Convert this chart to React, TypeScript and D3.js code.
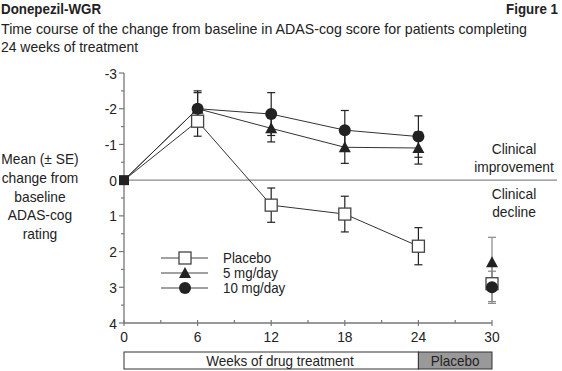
import React from "react";
import * as d3 from "d3";

const weeks = [0, 6, 12, 18, 24];
const placebo = [0, -1.65, 0.7, 0.95, 1.85];
const placeboSE = [0, 0.42, 0.48, 0.5, 0.52];
const mg5 = [0, -2.0, -1.45, -0.92, -0.9];
const mg5SE = [0, 0.45, 0.38, 0.45, 0.45];
const mg10 = [0, -2.0, -1.85, -1.4, -1.22];
const mg10SE = [0, 0.5, 0.6, 0.55, 0.58];

// week 30: after switch to placebo, not joined to the lines
const week30 = 30;
const placebo30 = 2.9;
const placebo30SE = 0.5;
const mg5_30 = 2.3;
const mg5_30SE = 0.7;
const mg10_30 = 3.0;
const mg10_30SE = 0.45;

const xTicks = [0, 6, 12, 18, 24, 30];
const xMinor = [3, 9, 15, 21, 27];
const yTicks = [-3, -2, -1, 0, 1, 2, 3, 4];
const yMinor = [-2.5, -1.5, -0.5, 0.5, 1.5, 2.5, 3.5];

const legendLabels = ["Placebo", "5 mg/day", "10 mg/day"];
const yLabelLines = ["Mean (\u00B1 SE)", "change from", "baseline", "ADAS-cog", "rating"];

const font = "'Liberation Sans', Arial, sans-serif";
const ink = "#222";

const x = d3.scaleLinear().domain([0, 30]).range([124, 492]);
const y = d3.scaleLinear().domain([-3, 4]).range([73, 323]);

// narrow-looking text: squeeze the glyphs horizontally
const T = ({ x: tx, y: ty, children, anchor = "start", size = 15, bold = false, sx = 0.92, dy }: any) => (
  <text
    transform={`translate(${tx},${ty}) scale(${sx},1)`}
    fontSize={size}
    fontWeight={bold ? "bold" : "normal"}
    textAnchor={anchor}
    dy={dy}
    fill={ink}
  >
    {children}
  </text>
);

const Square = ({ cx, cy }: { cx: number; cy: number }) => (
  <rect x={cx - 6} y={cy - 6} width={12} height={12} fill="#fff" stroke="#444" strokeWidth={1.3} />
);
const Triangle = ({ cx, cy }: { cx: number; cy: number }) => (
  <path d={`M${cx},${cy - 6}L${cx + 6},${cy + 5}L${cx - 6},${cy + 5}Z`} fill={ink} />
);
const Dot = ({ cx, cy }: { cx: number; cy: number }) => <circle cx={cx} cy={cy} r={6} fill={ink} />;

const ErrBar = ({ wk, v, se, color = ink }: { wk: number; v: number; se: number; color?: string }) => {
  if (!se) return null;
  const cx = x(wk);
  const y1 = y(v - se);
  const y2 = y(v + se);
  return (
    <g stroke={color} strokeWidth={1.2}>
      <line x1={cx} x2={cx} y1={y1} y2={y2} />
      <line x1={cx - 4} x2={cx + 4} y1={y1} y2={y1} />
      <line x1={cx - 4} x2={cx + 4} y1={y2} y2={y2} />
    </g>
  );
};

export default function App() {
  const line = d3
    .line<number>()
    .x((_, i) => x(weeks[i]))
    .y((d) => y(d));

  const series = [
    { vals: placebo, se: placeboSE, M: Square },
    { vals: mg5, se: mg5SE, M: Triangle },
    { vals: mg10, se: mg10SE, M: Dot },
  ];

  return (
    <svg width={562} height={371} style={{ position: "absolute", left: 0, top: 0 }} fontFamily={font}>
      <rect width={562} height={371} fill="#fff" />
      {/* header */}
      <T x={1} y={14} size={15} bold sx={0.89}>Donepezil-WGR</T>
      <T x={558} y={14} size={15} bold sx={0.89} anchor="end">Figure 1</T>
      <text x={1} y={34} fontSize={15} fill={ink} textLength={526} lengthAdjust="spacingAndGlyphs">
        Time course of the change from baseline in ADAS-cog score for patients completing
      </text>
      <T x={1} y={52} size={15} sx={0.93}>24 weeks of treatment</T>

      {/* y label */}
      {yLabelLines.map((t, i) => (
        <T key={t} x={40} y={164 + i * 18.8} anchor="middle">{t}</T>
      ))}

      {/* zero line */}
      <line x1={x(0)} x2={557} y1={y(0)} y2={y(0)} stroke="#888" strokeWidth={1.3} />

      {/* y axis */}
      <line x1={x(0)} x2={x(0)} y1={y(-3)} y2={y(4)} stroke="#777" strokeWidth={1.3} />
      {yTicks.map((t) => (
        <g key={t}>
          <line x1={x(0) - 5} x2={x(0)} y1={y(t)} y2={y(t)} stroke="#777" strokeWidth={1.2} />
          <T x={117} y={y(t) + 5.5} anchor="end">{t}</T>
        </g>
      ))}
      {yMinor.map((t) => (
        <line key={t} x1={x(0) - 3} x2={x(0)} y1={y(t)} y2={y(t)} stroke="#777" strokeWidth={1.2} />
      ))}

      {/* x axis */}
      <line x1={x(0)} x2={x(30)} y1={y(4)} y2={y(4)} stroke="#777" strokeWidth={1.3} />
      {xTicks.map((t) => (
        <g key={t}>
          <line x1={x(t)} x2={x(t)} y1={y(4) - 3} y2={y(4) + 3} stroke="#777" strokeWidth={1.2} />
          <T x={x(t)} y={342} anchor="middle">{t}</T>
        </g>
      ))}
      {xMinor.map((t) => (
        <line key={t} x1={x(t)} x2={x(t)} y1={y(4) - 3} y2={y(4)} stroke="#777" strokeWidth={1.2} />
      ))}

      {/* clinical labels */}
      <T x={514} y={154} anchor="middle">Clinical</T>
      <T x={514} y={172} anchor="middle">improvement</T>
      <T x={514} y={199} anchor="middle">Clinical</T>
      <T x={514} y={217} anchor="middle">decline</T>

      {/* lines */}
      {series.map((s, i) => (
        <path key={i} d={line(s.vals) ?? ""} fill="none" stroke="#333" strokeWidth={1} />
      ))}
      {series.map((s, i) => (
        <g key={i}>
          {s.vals.map((v, j) => (
            <ErrBar key={j} wk={weeks[j]} v={v} se={s.se[j]} />
          ))}
        </g>
      ))}
      {series.map((s, i) => (
        <g key={i}>
          {s.vals.slice(1).map((v, j) => (
            <s.M key={j} cx={x(weeks[j + 1])} cy={y(v)} />
          ))}
        </g>
      ))}
      {/* baseline */}
      <rect x={x(0) - 5} y={y(0) - 5} width={10} height={10} fill={ink} />

      {/* week 30 */}
      <ErrBar wk={week30} v={mg5_30} se={mg5_30SE} color="#888" />
      <ErrBar wk={week30} v={placebo30} se={placebo30SE} color="#888" />
      <ErrBar wk={week30} v={mg10_30} se={mg10_30SE} color="#888" />
      <Triangle cx={x(week30)} cy={y(mg5_30)} />
      <Square cx={x(week30)} cy={y(placebo30)} />
      <Dot cx={x(week30)} cy={y(mg10_30)} />

      {/* legend */}
      {legendLabels.map((t, i) => {
        const ly = 258 + i * 15;
        const M = series[i].M;
        return (
          <g key={t}>
            <line x1={161} x2={208} y1={ly} y2={ly} stroke="#444" strokeWidth={1.2} />
            <M cx={185} cy={ly} />
            <T x={223} y={ly + 5} size={14.5}>{t}</T>
          </g>
        );
      })}

      {/* treatment bar */}
      <rect x={x(0)} y={352} width={x(24) - x(0)} height={17} fill="#fff" stroke="#333" strokeWidth={1} />
      <rect x={x(24)} y={352} width={x(30) - x(24)} height={17} fill="#999" stroke="#333" strokeWidth={1} />
      <T x={280} y={366} anchor="middle" sx={0.9}>Weeks of drug treatment</T>
      <T x={(x(24) + x(30)) / 2} y={366} anchor="middle" sx={0.9}>Placebo</T>
    </svg>
  );
}
